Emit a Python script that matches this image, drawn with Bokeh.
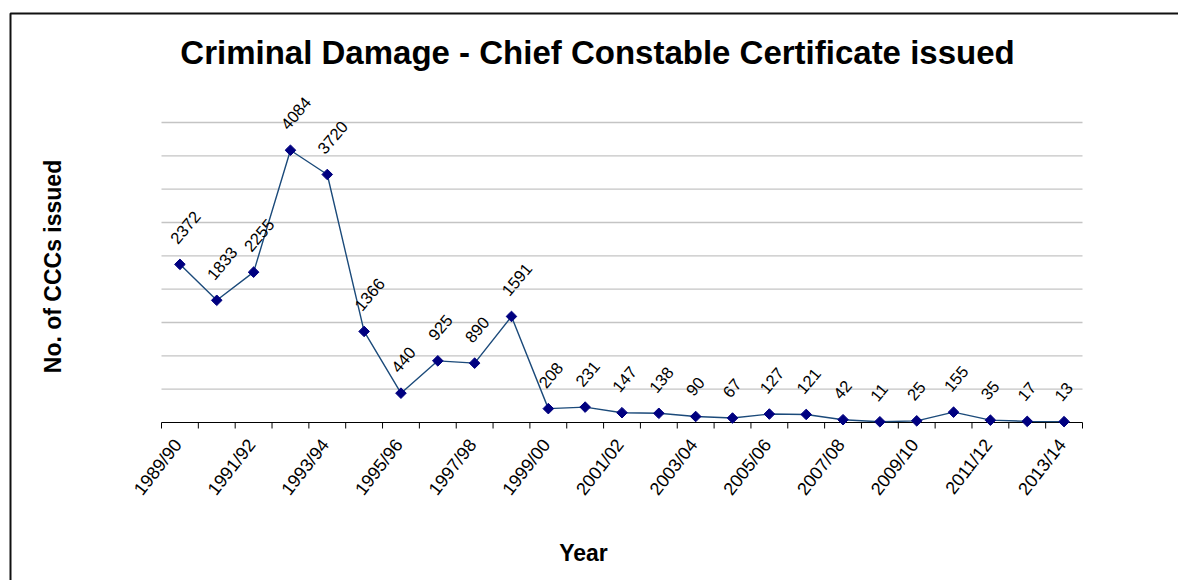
import math
from bokeh.plotting import figure
from bokeh.models import Range1d, ColumnDataSource, LabelSet, Label, PolyAnnotation
from bokeh.core.properties import value
from bokeh.embed import file_html
from bokeh.resources import INLINE

# Chief Constable Certificates issued for criminal damage, by financial year
years = ["1989/90", "1990/91", "1991/92", "1992/93", "1993/94", "1994/95",
         "1995/96", "1996/97", "1997/98", "1998/99", "1999/00", "2000/01",
         "2001/02", "2002/03", "2003/04", "2004/05", "2005/06", "2006/07",
         "2007/08", "2008/09", "2009/10", "2010/11", "2011/12", "2012/13",
         "2013/14"]
counts = [2372, 1833, 2255, 4084, 3720, 1366, 440, 925, 890, 1591, 208, 231,
          147, 138, 90, 67, 127, 121, 42, 11, 25, 155, 35, 17, 13]
grid_values = [500, 1000, 1500, 2000, 2500, 3000, 3500, 4000, 4500]

FONT = "Liberation Sans"
W, H = 1178, 580
PL, PR, PT, PB = 161, 1082, 122, 422   # plot area edges in pixels
Y_MAX = 4500
n = len(years)
x_idx = list(range(n))


def dx(px):
    """pixel column -> x data value"""
    return -0.5 + (px - PL) / (PR - PL) * n


def dy(py):
    """pixel row -> y data value"""
    return (PB - py) / (PB - PT) * Y_MAX


# the frame fills the whole canvas so that titles, the category axis and the
# chart border can all be drawn with the same scales
p = figure(width=W, height=H, output_backend="svg", toolbar_location=None,
           x_range=Range1d(dx(0), dx(W)), y_range=Range1d(dy(H), dy(0)),
           min_border=0, min_border_left=0, min_border_right=0,
           min_border_top=0, min_border_bottom=0,
           background_fill_color="white", border_fill_color="white",
           outline_line_color=None)
p.xaxis.visible = False
p.yaxis.visible = False
p.xgrid.visible = False
p.ygrid.visible = False

bounds = [i - 0.5 for i in range(n + 1)]
x_lo, x_hi = bounds[0], bounds[-1]

# horizontal gridlines across the plot area
p.segment(x0=[x_lo] * len(grid_values), y0=grid_values,
          x1=[x_hi] * len(grid_values), y1=grid_values,
          line_color="#c4c4c4", line_width=1.4)

# category axis: baseline, tick marks between categories, every other label
px_unit_y = Y_MAX / (PB - PT)
p.segment(x0=[x_lo], y0=[0], x1=[x_hi], y1=[0],
          line_color="#000000", line_width=1)
p.segment(x0=bounds, y0=[0] * len(bounds), x1=bounds,
          y1=[-6 * px_unit_y] * len(bounds), line_color="#000000", line_width=1)

tick_src = ColumnDataSource(dict(x=x_idx[::2], y=[0] * len(x_idx[::2]),
                                 label=years[::2]))
p.add_layout(LabelSet(x="x", y="y", text="label", source=tick_src,
                      angle=math.radians(52), text_align="right",
                      text_baseline="middle", x_offset=-2, y_offset=-19,
                      text_font=value(FONT), text_font_size="18px",
                      text_color="#000000"))

# the series
src = ColumnDataSource(dict(x=x_idx, y=counts, label=[str(c) for c in counts]))
p.line("x", "y", source=src, line_color="#1b4a7a", line_width=1.4)
p.scatter("x", "y", source=src, marker="square", angle=math.pi / 4, size=7.5,
          fill_color="#000080", line_color="#000080")

p.add_layout(LabelSet(x="x", y="y", text="label", source=src,
                      angle=math.radians(50), text_align="left",
                      text_baseline="middle", x_offset=-6.5, y_offset=23,
                      text_font=value(FONT), text_font_size="16.5px",
                      text_color="#000000"))

# titles
p.add_layout(Label(x=dx(597), y=dy(52),
                   text="Criminal Damage - Chief Constable Certificate issued",
                   text_align="center", text_baseline="alphabetic",
                   text_font=FONT, text_font_size="33px", text_font_style="bold",
                   text_color="#000000"))
p.add_layout(Label(x=dx(52), y=dy(266), text="No. of CCCs issued",
                   angle=math.pi / 2, text_align="center",
                   text_baseline="alphabetic", text_font=FONT,
                   text_font_size="23px", text_font_style="bold",
                   text_color="#000000"))
p.add_layout(Label(x=dx(583), y=dy(552), text="Year",
                   text_align="center", text_baseline="alphabetic",
                   text_font=FONT, text_font_size="23px", text_font_style="bold",
                   text_color="#000000"))

# chart area border (left and top edges fall inside the page)
p.add_layout(PolyAnnotation(xs=[dx(10), dx(10), dx(W + 40), dx(W + 40)],
                            ys=[dy(H + 40), dy(13), dy(13), dy(H + 40)],
                            fill_alpha=0, line_color="#111111", line_alpha=1.0,
                            line_width=2))

open("out.html", "w").write(file_html(p, INLINE))
